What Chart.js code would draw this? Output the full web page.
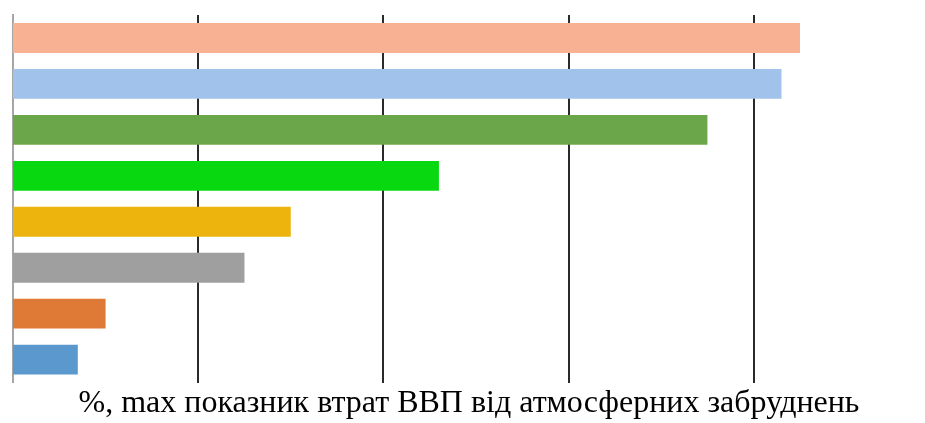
<!DOCTYPE html>
<html>
<head>
<meta charset="utf-8">
<script src="https://cdn.jsdelivr.net/npm/chart.js@4/dist/chart.umd.min.js"></script>
<style>
  html, body { margin: 0; padding: 0; background: #fff; }
  #wrap { width: 925px; height: 423px; }
</style>
</head>
<body>
<div id="wrap"><canvas id="myChart" width="925" height="423"></canvas></div>
<script>
// categories are unlabeled in the source picture
var categories = ['1', '2', '3', '4', '5', '6', '7', '8'];
var values = [4.25, 4.15, 3.75, 2.30, 1.50, 1.25, 0.50, 0.35];
var barColors = ['#F9B194', '#A1C2EA', '#6BA64A', '#08D80F', '#EDB40E', '#9F9F9F', '#DE7A36', '#5B98CE'];
var gridTicks = [1, 2, 3, 4];
var axisTitle = '%, max показник втрат ВВП від атмосферних забруднень';

const ctx = document.getElementById('myChart').getContext('2d');
const myChart = new Chart(ctx, {
    type: 'bar',
    data: {
        labels: categories,
        datasets: [{
            data: values,
            backgroundColor: barColors,
            borderWidth: 0,
            categoryPercentage: 1,
            barPercentage: 0.65
        }]
    },
    options: {
        indexAxis: 'y',
        responsive: false,
        animation: false,
        layout: { padding: { left: 13, right: 0, top: 15, bottom: 0 } },
        plugins: {
            legend: { display: false },
            tooltip: { enabled: false }
        },
        scales: {
            x: {
                min: 0,
                max: 4.925,
                afterBuildTicks: function(axis) {
                    axis.ticks = gridTicks.map(v => ({ value: v }));
                },
                ticks: { display: false },
                grid: { color: '#2a2a2a', lineWidth: 2, drawTicks: false },
                border: { display: false },
                title: {
                    display: true,
                    text: axisTitle,
                    color: '#000',
                    font: { family: '"Liberation Serif", "Times New Roman", serif', size: 32, lineHeight: 1.2 },
                    padding: { top: 2, bottom: 0 }
                }
            },
            y: {
                ticks: { display: false },
                grid: { display: false, drawTicks: false },
                border: { display: true, color: '#a6a6a6', width: 2 }
            }
        }
    }
});
</script>
</body>
</html>
